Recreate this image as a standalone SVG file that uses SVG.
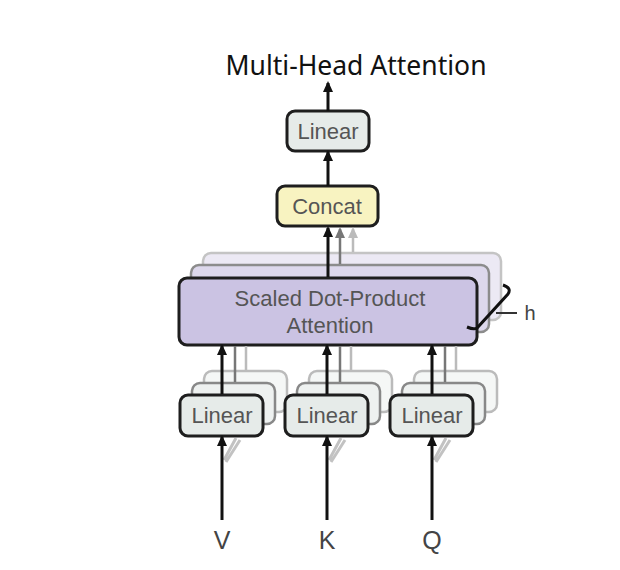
<svg xmlns="http://www.w3.org/2000/svg" width="620" height="570" viewBox="0 0 620 570">
<defs>
<style>
.lbl{font-family:"Liberation Sans",Arial,sans-serif;fill:#555;font-size:22px;text-anchor:middle}
.in{font-family:"Liberation Sans",Arial,sans-serif;fill:#444;font-size:25px;text-anchor:middle}
.box{stroke:#1e1e1e;stroke-width:3}
.lin{fill:#e6ebe9}
.back1{fill:#eef1f0;stroke:#888;stroke-width:2.5}
.back2{fill:#f5f7f6;stroke:#bbb;stroke-width:2.5}
.edge{stroke:#111;stroke-width:3;fill:none}
.g1{stroke:#777;stroke-width:2.5;fill:none}
.g2{stroke:#bbb;stroke-width:2.5;fill:none}
</style>
<marker id="ah" markerWidth="11" markerHeight="10" refX="9" refY="5" orient="auto" markerUnits="userSpaceOnUse" viewBox="0 0 11 10"><path d="M0,0 L11,5 L0,10 Z" fill="#111"/></marker>
<marker id="ahg" markerWidth="11" markerHeight="10" refX="9" refY="5" orient="auto" markerUnits="userSpaceOnUse" viewBox="0 0 11 10"><path d="M0,0 L11,5 L0,10 Z" fill="#777"/></marker>
<marker id="ahl" markerWidth="11" markerHeight="10" refX="9" refY="5" orient="auto" markerUnits="userSpaceOnUse" viewBox="0 0 11 10"><path d="M0,0 L11,5 L0,10 Z" fill="#bbb"/></marker>
</defs>
<rect width="620" height="570" fill="#fff"/>
<text x="356" y="75" font-family="'Noto Sans','Open Sans',sans-serif" font-size="26.5" fill="#111" text-anchor="middle">Multi-Head Attention</text>

<g id="linear-top">
<rect class="box lin" x="287" y="111" width="82" height="40" rx="8"/>
<text class="lbl" x="328" y="139">Linear</text>
</g>
<g id="concat">
<rect class="box" x="277" y="186" width="101" height="40" rx="8" fill="#f8f3c1"/>
<text class="lbl" x="327" y="214">Concat</text>
</g>
<g id="sdpa">
<rect x="203" y="253" width="298" height="67" rx="8" fill="#ece9f4" stroke="#c4c4c4" stroke-width="2.5"/>
<rect x="191" y="265" width="298" height="67" rx="8" fill="#ddd8ec" stroke="#8c8c8c" stroke-width="2.5"/>
<rect class="box" x="179" y="278" width="298" height="67" rx="8" fill="#cbc3e3"/>
<text class="lbl" x="330" y="306">Scaled Dot-Product</text>
<text class="lbl" x="330" y="333">Attention</text>
</g>
<g id="h-label">
<path d="M503 285 Q512 288 508 294 L477 328 Q474 330 467 327" stroke="#111" stroke-width="3" fill="none"/>
<line x1="496" y1="313" x2="517" y2="313" stroke="#333" stroke-width="2"/>
<text x="530" y="320" font-family="'Liberation Sans',Arial,sans-serif" font-size="20" fill="#444" text-anchor="middle">h</text>
</g>
<g id="linear-v">
<rect class="back2" x="204" y="371" width="83" height="41" rx="8"/>
<rect class="back1" x="192" y="383" width="83" height="41" rx="8"/>
<rect class="box lin" x="180" y="395" width="83" height="41" rx="8"/>
<text class="lbl" x="222" y="423">Linear</text>
</g>
<g id="linear-k">
<rect class="back2" x="309" y="371" width="83" height="41" rx="8"/>
<rect class="back1" x="297" y="383" width="83" height="41" rx="8"/>
<rect class="box lin" x="285" y="395" width="83" height="41" rx="8"/>
<text class="lbl" x="327" y="423">Linear</text>
</g>
<g id="linear-q">
<rect class="back2" x="414" y="371" width="83" height="41" rx="8"/>
<rect class="back1" x="402" y="383" width="83" height="41" rx="8"/>
<rect class="box lin" x="390" y="395" width="83" height="41" rx="8"/>
<text class="lbl" x="432" y="423">Linear</text>
</g>
<g id="inputs">
<text class="in" x="222" y="549">V</text>
<text class="in" x="327" y="549">K</text>
<text class="in" x="432" y="549">Q</text>
</g>

<g id="connectors">
<line class="edge" x1="328" y1="111" x2="328" y2="83" marker-end="url(#ah)"/>
<line class="edge" x1="328" y1="186" x2="328" y2="152" marker-end="url(#ah)"/>
<line class="g2" x1="353" y1="252" x2="353" y2="229" marker-end="url(#ahl)"/>
<line class="g1" x1="340" y1="264" x2="340" y2="229" marker-end="url(#ahg)"/>
<line class="edge" x1="328" y1="277" x2="328" y2="228" marker-end="url(#ah)"/>
<line class="g2" x1="246" y1="370" x2="246" y2="346"/>
<line class="g1" x1="235" y1="382" x2="235" y2="346"/>
<line class="edge" x1="222" y1="394" x2="222" y2="346" marker-end="url(#ah)"/>
<line class="g2" x1="351" y1="370" x2="351" y2="346"/>
<line class="g1" x1="340" y1="382" x2="340" y2="346"/>
<line class="edge" x1="327" y1="394" x2="327" y2="346" marker-end="url(#ah)"/>
<line class="g2" x1="456" y1="370" x2="456" y2="346"/>
<line class="g1" x1="445" y1="382" x2="445" y2="346"/>
<line class="edge" x1="432" y1="394" x2="432" y2="346" marker-end="url(#ah)"/>
<path d="M224 460 L236 438 M226 462 L240 440" stroke="#999" stroke-width="3" fill="none" opacity="0.6"/>
<path d="M329 460 L341 438 M331 462 L345 440" stroke="#999" stroke-width="3" fill="none" opacity="0.6"/>
<path d="M434 460 L446 438 M436 462 L450 440" stroke="#999" stroke-width="3" fill="none" opacity="0.6"/>
<line class="edge" x1="222" y1="520" x2="222" y2="437" marker-end="url(#ah)"/>
<line class="edge" x1="327" y1="520" x2="327" y2="437" marker-end="url(#ah)"/>
<line class="edge" x1="432" y1="520" x2="432" y2="437" marker-end="url(#ah)"/>
</g>
</svg>
